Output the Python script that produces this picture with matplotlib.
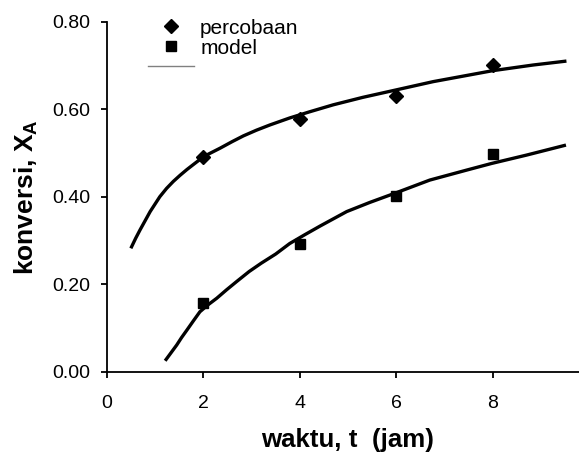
import matplotlib
matplotlib.use("Agg")
import matplotlib.pyplot as plt
from matplotlib.lines import Line2D

plt.rcParams['font.family'] = ['Liberation Sans', 'DejaVu Sans']
plt.rcParams['mathtext.fontset'] = 'custom'
plt.rcParams['mathtext.rm'] = 'Liberation Sans'
plt.rcParams['mathtext.bf'] = 'Liberation Sans:bold'

# experimental points (percobaan) and model points
t_points = [2, 4, 6, 8]
x_percobaan = [0.491, 0.578, 0.631, 0.701]
x_model = [0.156, 0.293, 0.402, 0.498]

# fitted curves
t_upper = [0.50, 0.60, 0.69, 0.80, 0.90, 1.00, 1.10, 1.24, 1.38, 1.52, 1.66, 1.80, 1.93, 2.10, 2.35,
           2.60, 2.83, 3.10, 3.38, 3.79, 4.20, 4.69, 5.30, 5.99, 6.76, 7.40, 7.99, 8.83, 9.52]
x_upper = [0.282, 0.305, 0.324, 0.346, 0.366, 0.383, 0.400, 0.419, 0.435, 0.449, 0.462, 0.474, 0.485, 0.497, 0.511,
           0.526, 0.539, 0.552, 0.564, 0.580, 0.594, 0.610, 0.627, 0.644, 0.663, 0.676, 0.688, 0.701, 0.710]
t_lower = [1.21, 1.33, 1.45, 1.55, 1.66, 1.80, 1.93, 2.10, 2.28, 2.48, 2.69, 2.95, 3.20, 3.50, 3.79, 4.10,
           4.42, 4.97, 5.45, 5.97, 6.69, 7.46, 7.97, 8.69, 9.51]
x_lower = [0.025, 0.043, 0.061, 0.078, 0.095, 0.117, 0.137, 0.153, 0.168, 0.187, 0.206, 0.229, 0.248, 0.269, 0.293, 0.313,
           0.333, 0.366, 0.387, 0.408, 0.438, 0.461, 0.476, 0.495, 0.518]

x_ticks = [0, 2, 4, 6, 8]
y_ticks = [0.0, 0.2, 0.4, 0.6, 0.8]

fig = plt.figure(figsize=(5.79, 4.61), dpi=100)
ax = fig.add_axes([106.7 / 579, 89.3 / 461, 1 - 106.7 / 579, 350.0 / 461])

ax.plot(t_upper, x_upper, color='black', lw=2.4, solid_capstyle='butt', solid_joinstyle='round')
ax.plot(t_lower, x_lower, color='black', lw=2.4, solid_capstyle='butt', solid_joinstyle='round')
ax.plot(t_points, x_percobaan, linestyle='none', marker='D', color='black', markersize=7.5)
ax.plot(t_points, x_model, linestyle='none', marker='s', color='black', markersize=7.5)

ax.set_xlim(0, 9.78)
ax.set_ylim(0, 0.8)
ax.set_xticks(x_ticks)
ax.set_xticklabels([str(v) for v in x_ticks])
ax.set_yticks(y_ticks)
ax.set_yticklabels([f"{v:.2f}" for v in y_ticks])
for s in ['top', 'right']:
    ax.spines[s].set_visible(False)
for s in ['left', 'bottom']:
    ax.spines[s].set_linewidth(1.3)
ax.tick_params(axis='both', labelsize=14, width=1.3, length=4.5, direction='out')
ax.tick_params(axis='y', pad=7)
ax.tick_params(axis='x', pad=12)

ax.set_xlabel('waktu, t  (jam)', fontsize=18.6, fontweight='bold', labelpad=12)
ax.xaxis.label.set_x(0.5 + 4.5 / 472)
ax.set_ylabel(r'konversi, X$_{\mathbf{A}}$', fontsize=19, fontweight='bold', labelpad=9)

handles = [
    Line2D([], [], linestyle='none', marker='D', color='black', markersize=7.5),
    Line2D([], [], linestyle='none', marker='s', color='black', markersize=7.5),
    Line2D([], [], color='#808080', lw=1.0),
]
leg = fig.legend(handles, ['percobaan', 'model', ''], loc='upper left',
                 bbox_to_anchor=(148 / 579, 1 - 18.5 / 461), frameon=False,
                 fontsize=15, handlelength=2.2, handletextpad=0.3,
                 labelspacing=0.05, borderpad=0, borderaxespad=0)

fig.savefig('out.png', dpi=100)
